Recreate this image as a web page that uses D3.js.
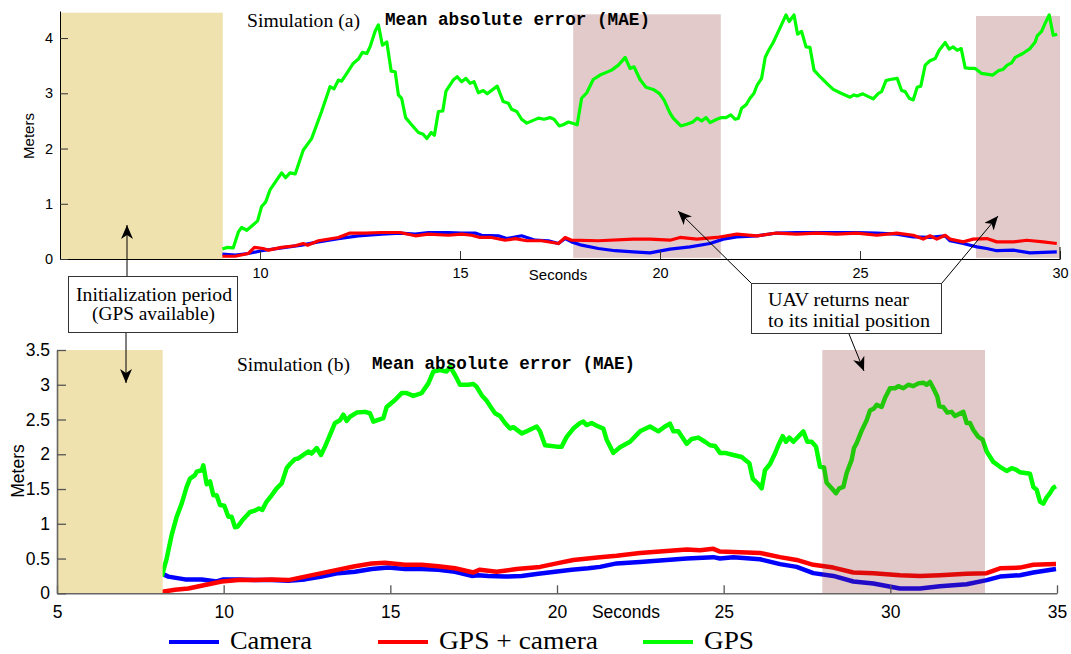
<!DOCTYPE html>
<html>
<head>
<meta charset="utf-8">
<script src="https://cdn.jsdelivr.net/npm/d3@7"></script>
<style>
  body { margin: 0; background: #fff; }
  svg { display: block; }
  .serif { font-family: "Liberation Serif", "Times New Roman", serif; }
  .mono { font-family: "Liberation Mono", "Courier New", monospace; font-weight: bold; }
  .sans { font-family: "Liberation Sans", Arial, sans-serif; }
</style>
</head>
<body>
<script>
// ---- data (seconds, meters) ----
// simulation (a)
var aCam = [[9.06,0.09],[9.38,0.07],[9.71,0.10],[10.04,0.15],[10.54,0.20],[11.04,0.25],[11.46,0.31],[11.96,0.37],[12.46,0.42],[13.04,0.45],[13.50,0.47],[13.88,0.45],[14.21,0.48],[14.71,0.48],[15.04,0.47],[15.38,0.47],[15.54,0.43],[15.96,0.42],[16.17,0.37],[16.54,0.42],[16.88,0.34],[17.21,0.33],[17.46,0.28],[17.63,0.37],[17.79,0.31],[18.04,0.25],[18.46,0.19],[18.88,0.15],[19.33,0.13],[19.75,0.11],[20.25,0.18],[20.75,0.22],[21.25,0.28],[21.58,0.36],[21.92,0.40],[22.42,0.42],[22.92,0.47],[23.42,0.48],[23.92,0.48],[24.42,0.48],[24.92,0.48],[25.42,0.47],[25.92,0.45],[26.33,0.40],[26.75,0.39],[27.13,0.42],[27.25,0.33],[27.58,0.28],[27.92,0.22],[28.17,0.19],[28.42,0.15],[28.83,0.16],[29.25,0.11],[29.92,0.13]];
var aFus = [[9.06,0.05],[9.38,0.05],[9.71,0.10],[9.86,0.21],[10.08,0.19],[10.21,0.16],[10.54,0.21],[10.88,0.24],[11.08,0.28],[11.19,0.25],[11.46,0.33],[11.96,0.39],[12.25,0.47],[12.63,0.47],[13.04,0.48],[13.50,0.48],[13.88,0.42],[14.21,0.45],[14.71,0.43],[15.04,0.45],[15.29,0.43],[15.50,0.39],[15.79,0.39],[16.13,0.34],[16.38,0.37],[16.67,0.33],[17.04,0.33],[17.46,0.28],[17.63,0.39],[17.79,0.34],[18.46,0.33],[19.33,0.36],[19.75,0.36],[20.25,0.34],[20.50,0.39],[20.92,0.36],[21.42,0.39],[21.92,0.45],[22.42,0.42],[22.92,0.47],[23.42,0.45],[23.92,0.47],[24.42,0.45],[24.92,0.47],[25.42,0.43],[25.92,0.47],[26.33,0.43],[26.58,0.36],[26.75,0.42],[26.92,0.36],[27.13,0.43],[27.25,0.36],[27.58,0.31],[27.83,0.36],[28.17,0.37],[28.42,0.31],[28.83,0.31],[29.17,0.34],[29.58,0.31],[29.92,0.28]];
var aGps = [[9.06,0.18],[9.17,0.21],[9.33,0.20],[9.46,0.49],[9.54,0.57],[9.67,0.52],[9.94,0.69],[10.04,0.95],[10.14,1.03],[10.25,1.25],[10.54,1.56],[10.64,1.47],[10.75,1.56],[10.88,1.54],[11.08,1.97],[11.29,2.18],[11.54,2.67],[11.75,3.12],[11.85,3.08],[11.96,3.24],[12.04,3.22],[12.17,3.36],[12.33,3.54],[12.46,3.62],[12.56,3.74],[12.67,3.72],[12.75,3.84],[12.88,4.13],[12.96,4.24],[13.06,3.87],[13.17,3.93],[13.28,3.40],[13.38,3.39],[13.46,2.97],[13.54,2.91],[13.64,2.56],[13.79,2.43],[13.96,2.29],[14.08,2.26],[14.17,2.18],[14.28,2.29],[14.36,2.24],[14.46,2.67],[14.57,2.68],[14.65,3.04],[14.83,3.24],[14.93,3.30],[15.04,3.21],[15.15,3.27],[15.25,3.18],[15.35,3.21],[15.46,3.01],[15.58,3.05],[15.68,2.99],[15.93,3.13],[16.08,2.85],[16.21,2.82],[16.29,2.71],[16.42,2.67],[16.54,2.53],[16.67,2.46],[16.96,2.55],[17.10,2.53],[17.25,2.56],[17.35,2.53],[17.48,2.41],[17.58,2.43],[17.71,2.48],[17.93,2.43],[18.04,2.91],[18.17,3.01],[18.33,3.25],[18.50,3.33],[18.63,3.37],[18.79,3.42],[18.96,3.51],[19.13,3.65],[19.25,3.45],[19.35,3.48],[19.50,3.25],[19.65,3.11],[19.83,3.07],[19.98,3.00],[20.10,2.88],[20.25,2.64],[20.33,2.55],[20.52,2.41],[20.67,2.44],[20.82,2.48],[20.93,2.55],[21.04,2.50],[21.15,2.56],[21.25,2.47],[21.42,2.53],[21.54,2.56],[21.65,2.56],[21.77,2.61],[21.88,2.53],[21.96,2.55],[22.04,2.73],[22.15,2.79],[22.25,2.91],[22.35,3.00],[22.43,3.15],[22.54,3.27],[22.63,3.65],[22.71,3.77],[22.83,3.92],[22.96,4.12],[23.15,4.42],[23.23,4.30],[23.35,4.42],[23.44,4.07],[23.54,4.12],[23.65,3.84],[23.75,3.83],[23.85,3.42],[24.00,3.30],[24.17,3.18],[24.33,3.07],[24.50,3.01],[24.75,2.93],[24.85,2.97],[24.93,2.95],[25.07,2.99],[25.21,2.94],[25.33,2.90],[25.46,3.00],[25.54,3.03],[25.65,3.23],[25.75,3.25],[25.93,3.27],[26.04,3.05],[26.13,3.03],[26.23,2.91],[26.33,2.88],[26.43,3.11],[26.52,3.13],[26.63,3.51],[26.75,3.59],[26.88,3.63],[26.98,3.78],[27.13,3.92],[27.23,3.80],[27.33,3.84],[27.43,3.78],[27.53,3.81],[27.63,3.46],[27.75,3.45],[27.88,3.45],[28.04,3.36],[28.32,3.33],[28.46,3.41],[28.57,3.43],[28.68,3.51],[28.79,3.55],[28.88,3.65],[29.07,3.72],[29.25,3.81],[29.38,3.93],[29.43,4.04],[29.54,4.12],[29.63,4.27],[29.73,4.42],[29.83,4.05],[29.93,4.07]];
// simulation (b)
var bCam = [[8.12,0.29],[8.34,0.24],[8.84,0.20],[9.34,0.20],[9.79,0.17],[9.99,0.20],[10.44,0.20],[10.94,0.19],[11.44,0.19],[11.94,0.18],[12.44,0.20],[12.94,0.24],[13.44,0.29],[13.94,0.31],[14.44,0.35],[14.94,0.37],[15.44,0.35],[15.94,0.35],[16.44,0.34],[16.94,0.31],[17.44,0.25],[17.64,0.26],[17.94,0.25],[18.44,0.24],[18.94,0.25],[19.44,0.28],[19.94,0.31],[20.44,0.34],[20.94,0.36],[21.29,0.38],[21.79,0.43],[22.49,0.45],[23.29,0.48],[23.89,0.50],[24.69,0.52],[24.89,0.50],[25.29,0.52],[26.09,0.49],[26.69,0.42],[27.19,0.38],[27.69,0.29],[28.29,0.25],[28.89,0.17],[29.49,0.14],[30.29,0.07],[30.89,0.07],[31.49,0.10],[32.29,0.13],[32.89,0.19],[33.29,0.24],[33.89,0.26],[34.29,0.30],[34.97,0.35]];
var bFus = [[8.12,0.02],[8.54,0.05],[8.94,0.07],[9.44,0.12],[9.94,0.17],[10.44,0.19],[10.94,0.19],[11.44,0.20],[11.94,0.19],[12.44,0.24],[12.94,0.29],[13.44,0.34],[13.94,0.39],[14.44,0.43],[14.84,0.44],[15.44,0.41],[15.94,0.41],[16.44,0.39],[16.94,0.36],[17.49,0.30],[17.69,0.34],[18.19,0.31],[18.79,0.35],[19.49,0.38],[19.99,0.43],[20.49,0.48],[21.29,0.52],[21.79,0.54],[22.49,0.58],[23.29,0.61],[23.89,0.63],[24.29,0.62],[24.69,0.64],[24.89,0.60],[25.49,0.59],[26.09,0.58],[26.69,0.52],[27.19,0.48],[27.69,0.41],[28.29,0.37],[28.89,0.30],[29.49,0.29],[30.29,0.26],[30.89,0.25],[31.49,0.26],[32.29,0.28],[32.89,0.29],[33.29,0.36],[33.89,0.37],[34.29,0.41],[34.97,0.42]];
var bGps = [[8.14,0.24],[8.29,0.50],[8.44,0.84],[8.59,1.10],[8.74,1.29],[8.89,1.53],[8.99,1.65],[9.14,1.70],[9.19,1.75],[9.34,1.77],[9.39,1.84],[9.49,1.57],[9.59,1.61],[9.69,1.41],[9.79,1.41],[9.89,1.27],[10.02,1.26],[10.14,1.10],[10.24,1.10],[10.34,0.95],[10.42,0.96],[10.56,1.05],[10.79,1.17],[10.94,1.19],[11.06,1.22],[11.16,1.20],[11.29,1.32],[11.44,1.41],[11.59,1.51],[11.74,1.58],[11.89,1.80],[11.99,1.86],[12.14,1.93],[12.24,1.94],[12.39,1.99],[12.54,2.04],[12.64,2.01],[12.79,2.09],[12.92,1.99],[13.04,2.11],[13.19,2.28],[13.34,2.45],[13.49,2.49],[13.59,2.57],[13.69,2.48],[13.79,2.54],[13.99,2.60],[14.24,2.61],[14.39,2.59],[14.49,2.47],[14.79,2.52],[14.89,2.68],[15.14,2.78],[15.34,2.88],[15.49,2.88],[15.69,2.84],[15.94,2.88],[16.14,3.02],[16.29,3.19],[16.49,3.21],[16.69,3.19],[16.79,3.26],[16.94,3.14],[17.09,3.00],[17.34,3.00],[17.49,3.01],[17.59,2.97],[17.74,2.85],[17.89,2.77],[18.04,2.66],[18.14,2.59],[18.29,2.55],[18.44,2.45],[18.59,2.37],[18.69,2.39],[18.94,2.30],[19.09,2.33],[19.39,2.40],[19.49,2.33],[19.64,2.13],[19.99,2.11],[20.14,2.11],[20.29,2.25],[20.49,2.37],[20.69,2.45],[20.79,2.47],[20.89,2.42],[21.04,2.45],[21.19,2.41],[21.39,2.37],[21.49,2.21],[21.69,2.02],[21.89,2.10],[22.19,2.18],[22.49,2.33],[22.79,2.40],[23.04,2.33],[23.24,2.40],[23.39,2.44],[23.49,2.33],[23.64,2.33],[23.74,2.26],[23.89,2.15],[24.04,2.22],[24.24,2.24],[24.44,2.18],[24.59,2.13],[24.74,2.12],[24.89,2.02],[25.04,2.02],[25.29,1.99],[25.54,1.96],[25.77,1.87],[25.87,1.65],[26.04,1.57],[26.14,1.51],[26.24,1.77],[26.39,1.86],[26.54,2.01],[26.64,2.13],[26.77,2.26],[26.87,2.18],[26.97,2.24],[27.09,2.18],[27.39,2.33],[27.51,2.18],[27.64,2.18],[27.77,2.11],[27.89,1.82],[28.01,1.81],[28.09,1.59],[28.24,1.51],[28.37,1.44],[28.47,1.51],[28.59,1.53],[28.69,1.73],[28.84,1.92],[28.91,2.09],[28.99,2.16],[29.14,2.34],[29.29,2.49],[29.39,2.63],[29.51,2.66],[29.59,2.71],[29.74,2.68],[29.84,2.81],[29.99,2.95],[30.14,2.95],[30.24,2.98],[30.39,2.95],[30.54,3.00],[30.69,2.98],[30.84,3.02],[30.99,3.03],[31.09,3.00],[31.19,3.04],[31.29,2.95],[31.41,2.83],[31.47,2.69],[31.59,2.68],[31.71,2.60],[31.84,2.61],[31.94,2.55],[32.19,2.61],[32.29,2.45],[32.39,2.45],[32.49,2.35],[32.64,2.25],[32.77,2.21],[32.89,2.04],[33.09,1.89],[33.29,1.82],[33.49,1.76],[33.64,1.80],[33.77,1.78],[33.89,1.74],[34.04,1.73],[34.19,1.72],[34.29,1.53],[34.39,1.49],[34.49,1.32],[34.59,1.29],[34.69,1.38],[34.79,1.44],[34.89,1.52],[34.97,1.54]];

// shaded periods [from, to, top]
var aInit = [5, 9.07, 4.46];
var aReturn = [[17.83, 21.52, 4.43], [27.9, 30, 4.40]];
var bInit = [5, 8.17, 3.5];
var bReturn = [[27.96, 32.84, 3.5]];

var aXTicks = [10, 15, 20, 25, 30];
var aYTicks = [0, 1, 2, 3, 4];
var bXTicks = [5, 10, 15, 20, 25, 30, 35];
var bYTicks = [0, 0.5, 1, 1.5, 2, 2.5, 3, 3.5];

var seriesNames = ["Camera", "GPS + camera", "GPS"];
var seriesColors = ["#0000ff", "#ff0000", "#00ff00"];

var width = 1071, height = 654;
var svg = d3.select("body").append("svg").attr("width", width).attr("height", height);

// arrowhead
var defs = svg.append("defs");
defs.append("marker").attr("id", "arr")
    .attr("viewBox", "0 0 14 12").attr("refX", 14).attr("refY", 6)
    .attr("markerWidth", 14).attr("markerHeight", 12)
    .attr("markerUnits", "userSpaceOnUse").attr("orient", "auto")
  .append("path").attr("d", "M0,0 L14,6 L0,12 L4,6 Z").attr("fill", "#000");

// ---------------- panel (a) ----------------
var xA = d3.scaleLinear().domain([5, 30]).range([60, 1060]);
var yA = d3.scaleLinear().domain([0, 4.49]).range([259, 11]);
var gA = svg.append("g");

gA.append("rect").attr("x", xA(aInit[0])).attr("y", yA(aInit[2]))
  .attr("width", xA(aInit[1]) - xA(aInit[0])).attr("height", yA(0) - yA(aInit[2]))
  .attr("fill", "#f0e2ae");
gA.selectAll(".ret").data(aReturn).enter().append("rect")
  .attr("x", d => xA(d[0])).attr("y", d => yA(d[2]))
  .attr("width", d => xA(d[1]) - xA(d[0])).attr("height", d => yA(0.02) - yA(d[2]))
  .attr("fill", "#e2caca");

var lineA = d3.line().x(d => xA(d[0])).y(d => yA(d[1]));
[aCam, aFus, aGps].forEach(function(s, i) {
  gA.append("path").attr("d", lineA(s)).attr("fill", "none")
    .attr("stroke", seriesColors[i]).attr("stroke-width", 3.2)
    .attr("stroke-linejoin", "round");
});

var axA_x = gA.append("g").attr("transform", "translate(0," + yA(0) + ")")
  .call(d3.axisBottom(xA).tickValues(aXTicks).tickFormat(d3.format("")).tickSize(-8).tickSizeOuter(0).tickPadding(9));
var axA_y = gA.append("g").attr("transform", "translate(" + xA(5) + ",0)")
  .call(d3.axisLeft(yA).tickValues(aYTicks).tickFormat(d3.format("")).tickSize(-8).tickSizeOuter(0).tickPadding(7));
[axA_x, axA_y].forEach(function(a) {
  a.selectAll("text").attr("font-family", "Liberation Sans, Arial, sans-serif").attr("font-size", 14.5).attr("fill", "#000");
  a.select(".domain").attr("stroke", "#000");
  a.selectAll(".tick line").attr("stroke", "#333");
});
// end tick at right of x axis
gA.append("line").attr("x1", xA(30)).attr("x2", xA(30)).attr("y1", yA(0)).attr("y2", yA(0) - 12).attr("stroke", "#000");

gA.append("text").attr("class", "sans").attr("font-size", 15)
  .attr("transform", "translate(34,136) rotate(-90)").attr("text-anchor", "middle").text("Meters");
gA.append("text").attr("class", "sans").attr("font-size", 15)
  .attr("x", 558).attr("y", 280).attr("text-anchor", "middle").text("Seconds");
gA.append("text").attr("class", "serif").attr("font-size", 19)
  .attr("x", 247).attr("y", 27).attr("textLength", 113).attr("lengthAdjust", "spacingAndGlyphs").text("Simulation (a)");
gA.append("text").attr("class", "mono").attr("font-size", 17.5)
  .attr("x", 385).attr("y", 25).attr("textLength", 265).attr("lengthAdjust", "spacingAndGlyphs").text("Mean absolute error (MAE)");

// ---------------- panel (b) ----------------
var xB = d3.scaleLinear().domain([5, 35]).range([57, 1057]);
var yB = d3.scaleLinear().domain([0, 3.5]).range([593.3, 350]);
var gB = svg.append("g");

var lineB = d3.line().x(d => xB(d[0])).y(d => yB(d[1]));
[bCam, bFus, bGps].forEach(function(s, i) {
  gB.append("path").attr("d", lineB(s)).attr("fill", "none")
    .attr("stroke", seriesColors[i]).attr("stroke-width", 4.5)
    .attr("stroke-linejoin", "round");
});

gB.append("rect").attr("x", xB(bInit[0])).attr("y", yB(bInit[2]))
  .attr("width", xB(bInit[1]) - xB(bInit[0])).attr("height", yB(0) - yB(bInit[2]))
  .attr("fill", "#f0e2ae");
// translucent overlay, lines show through darker
gB.selectAll(".ret").data(bReturn).enter().append("rect")
  .attr("x", d => xB(d[0])).attr("y", d => yB(d[2]))
  .attr("width", d => xB(d[1]) - xB(d[0])).attr("height", d => yB(0) - yB(d[2]))
  .attr("fill", "rgb(137,40,40)").attr("fill-opacity", 0.25);

var axB_x = gB.append("g").attr("transform", "translate(0," + yB(0) + ")")
  .call(d3.axisBottom(xB).tickValues(bXTicks).tickSize(-8).tickSizeOuter(0).tickPadding(12));
var axB_y = gB.append("g").attr("transform", "translate(" + xB(5) + ",0)")
  .call(d3.axisLeft(yB).tickValues(bYTicks).tickFormat(d3.format("")).tickSize(-9).tickSizeOuter(0).tickPadding(7));
[axB_x, axB_y].forEach(function(a) {
  a.selectAll("text").attr("font-family", "Liberation Sans, Arial, sans-serif").attr("font-size", 17.5).attr("fill", "#000");
  a.select(".domain").attr("stroke", "#666").attr("stroke-width", 1.6);
  a.selectAll(".tick line").attr("stroke", "#555").attr("stroke-width", 1.3);
});

gB.append("text").attr("class", "sans").attr("font-size", 17.5)
  .attr("transform", "translate(24,471) rotate(-90)").attr("text-anchor", "middle").text("Meters");
gB.append("text").attr("class", "sans").attr("font-size", 17.5)
  .attr("x", 626).attr("y", 618).attr("text-anchor", "middle").text("Seconds");
gB.append("text").attr("class", "serif").attr("font-size", 19)
  .attr("x", 237).attr("y", 371).attr("textLength", 113).attr("lengthAdjust", "spacingAndGlyphs").text("Simulation (b)");
gB.append("text").attr("class", "mono").attr("font-size", 17.5)
  .attr("x", 372).attr("y", 369).attr("textLength", 263).attr("lengthAdjust", "spacingAndGlyphs").text("Mean absolute error (MAE)");

// ---------------- legend ----------------
var legX = [169, 378, 643];
var legW = [82, 159, 50];
var leg = svg.append("g");
seriesNames.forEach(function(n, i) {
  leg.append("line").attr("x1", legX[i]).attr("x2", legX[i] + 50).attr("y1", 642).attr("y2", 642)
    .attr("stroke", seriesColors[i]).attr("stroke-width", 4);
  leg.append("text").attr("class", "serif").attr("font-size", 25)
    .attr("x", legX[i] + 61).attr("y", 649).attr("textLength", legW[i]).attr("lengthAdjust", "spacingAndGlyphs").text(n);
});

// ---------------- annotations ----------------
var ann = svg.append("g");
function arrow(x1, y1, x2, y2) {
  ann.append("line").attr("x1", x1).attr("y1", y1).attr("x2", x2).attr("y2", y2)
    .attr("stroke", "#000").attr("stroke-width", 1).attr("marker-end", "url(#arr)");
}
arrow(127, 277, 127, 225);
arrow(126, 333, 126, 383);
arrow(751, 283, 678, 211);
arrow(942, 283, 998, 216);
arrow(849, 334, 864, 371);

ann.append("rect").attr("x", 68.5).attr("y", 276.5).attr("width", 169).attr("height", 56)
  .attr("fill", "#fff").attr("stroke", "#333");
ann.append("text").attr("class", "serif").attr("font-size", 18)
  .attr("x", 76).attr("y", 301).attr("textLength", 156).attr("lengthAdjust", "spacingAndGlyphs").text("Initialization period");
ann.append("text").attr("class", "serif").attr("font-size", 18)
  .attr("x", 92).attr("y", 320).attr("textLength", 123).attr("lengthAdjust", "spacingAndGlyphs").text("(GPS available)");

ann.append("rect").attr("x", 751.5).attr("y", 283.5).attr("width", 190).attr("height", 50)
  .attr("fill", "#fff").attr("stroke", "#333");
ann.append("text").attr("class", "serif").attr("font-size", 18)
  .attr("x", 768).attr("y", 306).attr("textLength", 141).attr("lengthAdjust", "spacingAndGlyphs").text("UAV returns near");
ann.append("text").attr("class", "serif").attr("font-size", 18)
  .attr("x", 768).attr("y", 327).attr("textLength", 162).attr("lengthAdjust", "spacingAndGlyphs").text("to its initial position");
</script>
</body>
</html>
